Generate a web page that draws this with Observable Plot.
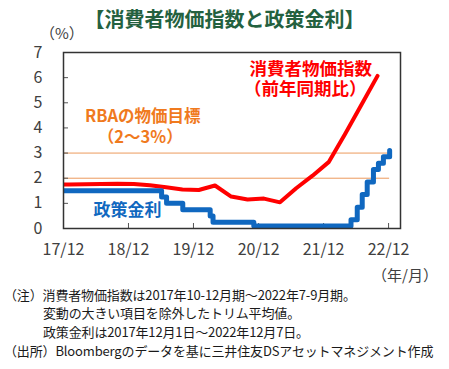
<!DOCTYPE html>
<html><head><meta charset="utf-8">
<script src="https://cdn.jsdelivr.net/npm/d3@7"></script>
<script src="https://cdn.jsdelivr.net/npm/@observablehq/plot@0.6"></script>
<style>
body{margin:0;background:#fff;font-family:"Noto Sans CJK JP","Noto Sans",sans-serif;}
#wrap{position:relative;width:449px;height:369px;overflow:hidden;}
#chart{position:absolute;left:0;top:0;}
.t{position:absolute;white-space:nowrap;line-height:1.2;}
#title{left:0;width:449px;text-align:center;top:7px;font-size:20px;font-weight:bold;color:#24613f;}
#ylab{left:40px;top:24px;font-size:15px;color:#404040;}
#xlab{left:372px;top:266px;font-size:15px;color:#404040;}
.note{font-size:13px;color:#1a1a1a;letter-spacing:-0.15px;}
</style></head>
<body><div id="wrap">
<div class="t" id="title">【消費者物価指数と政策金利】</div>
<div id="chart"></div>
<div class="t" id="ylab">（%）</div>
<div class="t" id="xlab">（年/月）</div>
<div class="t note" style="left:4px;top:287px">（注）消費者物価指数は2017年10-12月期～2022年7-9月期。</div>
<div class="t note" style="left:43px;top:305px">変動の大きい項目を除外したトリム平均値。</div>
<div class="t note" style="left:43px;top:324px">政策金利は2017年12月1日～2022年12月7日。</div>
<div class="t note" style="left:4px;top:343px">（出所）Bloombergのデータを基に三井住友DSアセットマネジメント作成</div>
</div>
<script>
// CPI (trimmed mean, y/y %) at quarter-end dates
const cpiDates = ["2017-09-30","2017-12-31","2018-03-31","2018-06-30","2018-09-30","2018-12-31",
  "2019-03-31","2019-06-30","2019-09-30","2019-12-31","2020-03-31","2020-06-30","2020-09-30",
  "2020-12-31","2021-03-31","2021-06-30","2021-09-30","2021-12-31","2022-03-31","2022-06-30","2022-09-30"];
const cpiValues = [1.75,1.75,1.76,1.77,1.78,1.77,1.72,1.64,1.55,1.53,1.71,1.27,1.15,1.19,1.04,1.6,2.1,2.65,3.75,4.9,6.07];
// RBA cash rate target (%)
const rateDates = ["2017-12-01","2019-06-05","2019-07-03","2019-10-02","2020-03-04","2020-03-20","2020-11-04",
  "2022-05-04","2022-06-08","2022-07-06","2022-08-03","2022-09-07","2022-10-05","2022-11-02","2022-12-07"];
const rateValues = [1.5,1.25,1.0,0.75,0.5,0.25,0.10,0.35,0.85,1.35,1.85,2.35,2.60,2.85,3.10];
// RBA inflation target band
const targetBand = [2, 3];
const xTickDates = ["2017-12-01","2018-12-01","2019-12-01","2020-12-01","2021-12-01","2022-12-01"];
const yTicks = [0,1,2,3,4,5,6,7];
const xDomain = ["2017-12-01","2023-02-06"];

const P = s => new Date(s + "T00:00:00Z");
const cpi = cpiDates.map((d,i)=>({date:P(d), value:cpiValues[i]}));
const rate = rateDates.map((d,i)=>({date:P(d), value:rateValues[i]}));
const ticks = xTickDates.map(P);
const innerTicks = ticks.slice(1);

const W = 449, H = 290, mL = 63, mR = 49, mT = 52, mB = 62;
const fw = W - mL - mR, fh = H - mT - mB;

const label = (text, x, y, fill, size) =>
  Plot.text([text], {x: P(x), y, fontSize: size, fontWeight: "bold", fill});

const chart = Plot.plot({
  width: W, height: H,
  marginLeft: mL, marginRight: mR, marginTop: mT, marginBottom: mB,
  style: {fontFamily: "'Noto Sans CJK JP','Noto Sans',sans-serif", background: "transparent", color: "#404040"},
  x: {type: "utc", domain: xDomain.map(P)},
  y: {domain: [0, 7]},
  marks: [
    Plot.ruleY(targetBand, {x1: rate[0].date, x2: rate[rate.length-1].date, stroke: "#ec9a5c", strokeWidth: 1}),
    Plot.tickX(innerTicks, {x: d => d, stroke: "#555", strokeWidth: 1, insetTop: fh - 5}),
    Plot.tickY(yTicks.slice(1, -1), {y: d => d, stroke: "#555", strokeWidth: 1, insetRight: fw - 5}),
    Plot.line(cpi, {x: "date", y: "value", stroke: "#ff0000", strokeWidth: 4, clip: true}),
    Plot.line(rate, {x: "date", y: "value", curve: "step-after", stroke: "#1068c0", strokeWidth: 5, clip: true}),
    Plot.frame({stroke: "#333", strokeWidth: 1.5}),
    Plot.axisY({ticks: yTicks, tickFormat: d3.format("d"), tickSize: 0, tickPadding: 21, fontSize: 16, fill: "#404040", label: null}),
    Plot.axisX({ticks: ticks, tickFormat: d3.utcFormat("%y/%m"), tickSize: 0, tickPadding: 15, fontSize: 16, fill: "#404040", label: null}),
    label("RBAの物価目標", "2019-02-19", 4.44, "#f07a1e", 16.5),
    label("（2～3%）", "2019-02-05", 3.63, "#f07a1e", 16.5),
    label("消費者物価指数", "2021-09-20", 6.31, "#ff0000", 17.5),
    label("（前年同期比）", "2021-08-20", 5.54, "#ff0000", 17.5),
    label("政策金利", "2018-11-25", 0.71, "#1068c0", 17)
  ]
});
document.getElementById("chart").appendChild(chart);
</script>
</body></html>
